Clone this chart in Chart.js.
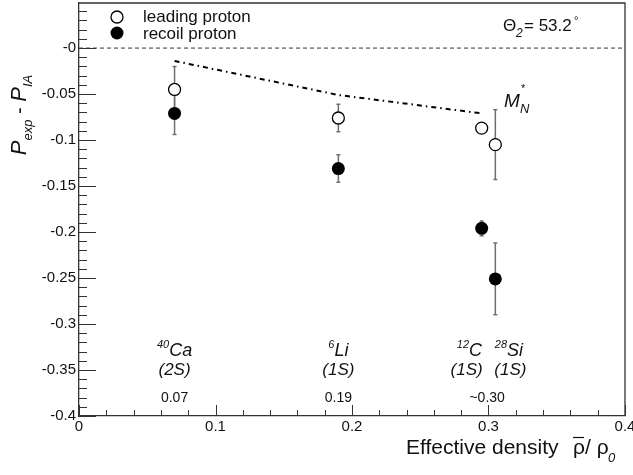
<!DOCTYPE html>
<html lang="en">
<head>
<meta charset="UTF-8">
<title>Polarization difference vs effective density</title>
<style>
  html, body { margin: 0; padding: 0; background: #fff; }
  #wrap { width: 633px; height: 475px; }
</style>
</head>
<body>
<div id="wrap"><canvas id="myChart" width="633" height="475"></canvas></div>

<script src="https://cdn.jsdelivr.net/npm/chart.js"></script>
<script>
// data
const densityX = [0.070, 0.190, 0.295, 0.305];          // 40Ca, 6Li, 12C, 28Si
const leadingY = [-0.045, -0.076, -0.087, -0.105];
const leadingErr = [0.025, 0.015, 0.005, 0.038];
const recoilY = [-0.071, -0.131, -0.196, -0.251];
const recoilErr = [0.023, 0.015, 0.008, 0.039];
const mnX = [0.070, 0.190, 0.295];                      // M*_N calculation
const mnY = [-0.014, -0.051, -0.071];

const xTickVals = [0, 0.1, 0.2, 0.3, 0.4];
const xTickText = ['0', '0.1', '0.2', '0.3', '0.4'];
const yTickVals = [-0.4, -0.35, -0.3, -0.25, -0.2, -0.15, -0.1, -0.05, 0];
const yTickText = ['-0.4', '-0.35', '-0.3', '-0.25', '-0.2', '-0.15', '-0.1', '-0.05', '-0'];

// nucleus labels along the bottom
const nuclei = [
    { mass: '40', sym: 'Ca', x: 0.070 },
    { mass: '6', sym: 'Li', x: 0.190 },
    { mass: '12', sym: 'C', x: 0.286 },
    { mass: '28', sym: 'Si', x: 0.315 }
];
const shellText = ['(2S)', '(1S)', '(1S)', '(1S)'];
const shellX = [0.070, 0.190, 0.284, 0.316];
const densText = ['0.07', '0.19', '~0.30'];
const densX = [0.070, 0.190, 0.299];

const FONT = '"Liberation Sans", Arial, sans-serif';

function pts(xs, ys) {
    return xs.map((x, i) => ({ x: x, y: ys[i] }));
}

const extras = {
    id: 'extras',
    beforeDatasetsDraw(chart) {
        const ctx = chart.ctx;
        const xs = chart.scales.x, ys = chart.scales.y;
        ctx.save();
        ctx.strokeStyle = '#707070';
        ctx.lineWidth = 1.5;
        const bars = [[leadingY, leadingErr], [recoilY, recoilErr]];
        bars.forEach(([vals, errs]) => {
            vals.forEach((v, i) => {
                const px = xs.getPixelForValue(densityX[i]);
                const top = ys.getPixelForValue(v + errs[i]);
                const bot = ys.getPixelForValue(v - errs[i]);
                ctx.beginPath();
                ctx.moveTo(px, top); ctx.lineTo(px, bot);
                ctx.moveTo(px - 2, top); ctx.lineTo(px + 2, top);
                ctx.moveTo(px - 2, bot); ctx.lineTo(px + 2, bot);
                ctx.stroke();
            });
        });
        ctx.restore();
    },
    afterDraw(chart) {
        const ctx = chart.ctx;
        const a = chart.chartArea;
        const xs = chart.scales.x, ys = chart.scales.y;
        ctx.save();

        // frame top/right
        ctx.strokeStyle = '#333';
        ctx.lineWidth = 1.3;
        ctx.beginPath();
        ctx.moveTo(a.left, a.top); ctx.lineTo(a.right, a.top); ctx.lineTo(a.right, a.bottom);
        ctx.stroke();

        // inner ticks
        ctx.lineWidth = 1;
        ctx.beginPath();
        for (let i = 0; i <= 45; i++) {
            const v = -0.4 + i * 0.01;
            const py = Math.round(ys.getPixelForValue(v)) + 0.5;
            if (py < a.top) continue;
            const len = i % 5 === 0 ? 17 : 8;
            ctx.moveTo(a.left, py); ctx.lineTo(a.left + len, py);
        }
        for (let i = 0; i <= 20; i++) {
            const v = i * 0.02;
            const px = Math.round(xs.getPixelForValue(v)) + 0.5;
            const len = i % 5 === 0 ? 11 : 6;
            ctx.moveTo(px, a.bottom); ctx.lineTo(px, a.bottom - len);
        }
        ctx.stroke();

        ctx.fillStyle = '#111';
        ctx.textBaseline = 'alphabetic';

        // legend
        ctx.lineWidth = 1.3;
        ctx.strokeStyle = '#000';
        ctx.beginPath(); ctx.arc(117, 17, 6, 0, Math.PI * 2);
        ctx.fillStyle = '#fff'; ctx.fill(); ctx.stroke();
        ctx.beginPath(); ctx.arc(117, 33, 6.5, 0, Math.PI * 2);
        ctx.fillStyle = '#000'; ctx.fill();
        ctx.fillStyle = '#111';
        ctx.font = '17px ' + FONT;
        ctx.textAlign = 'left';
        ctx.fillText('leading proton', 143, 22);
        ctx.fillText('recoil proton', 143, 39);

        // theta label
        ctx.font = '17px ' + FONT;
        ctx.fillText('\u0398', 503, 31);
        ctx.font = 'italic 12px ' + FONT;
        ctx.fillText('2', 516, 37);
        ctx.font = '17px ' + FONT;
        ctx.fillText('= 53.2', 524, 31);
        ctx.font = '11px ' + FONT;
        ctx.fillText('\u00b0', 574, 24);

        // M*_N label
        ctx.font = 'italic 19px ' + FONT;
        ctx.fillText('M', 504, 107);
        ctx.font = '11px ' + FONT;
        ctx.fillText('*', 521, 92);
        ctx.font = 'italic 13px ' + FONT;
        ctx.fillText('N', 520, 113);

        // nucleus labels
        nuclei.forEach(n => {
            ctx.font = 'italic 11px ' + FONT;
            const wm = ctx.measureText(n.mass).width;
            ctx.font = 'italic 18px ' + FONT;
            const ws = ctx.measureText(n.sym).width;
            const cx = xs.getPixelForValue(n.x);
            const left = cx - (wm + ws) / 2;
            const base = ys.getPixelForValue(-0.3345);
            ctx.font = 'italic 11px ' + FONT;
            ctx.fillText(n.mass, left, base - 8);
            ctx.font = 'italic 18px ' + FONT;
            ctx.fillText(n.sym, left + wm, base);
        });
        ctx.textAlign = 'center';
        ctx.font = 'italic 17px ' + FONT;
        shellText.forEach((t, i) => {
            ctx.fillText(t, xs.getPixelForValue(shellX[i]), ys.getPixelForValue(-0.355));
        });
        ctx.font = '14px ' + FONT;
        densText.forEach((t, i) => {
            ctx.fillText(t, xs.getPixelForValue(densX[i]), ys.getPixelForValue(-0.3845));
        });

        // x title
        ctx.textAlign = 'left';
        ctx.font = '21px ' + FONT;
        ctx.fillText('Effective density', 406, 454);
        ctx.fillText('\u03c1', 573, 454);
        ctx.lineWidth = 1.2;
        ctx.strokeStyle = '#111';
        ctx.beginPath(); ctx.moveTo(573, 437.5); ctx.lineTo(584, 437.5); ctx.stroke();
        ctx.fillText('/ \u03c1', 585, 454);
        ctx.font = 'italic 13px ' + FONT;
        ctx.fillText('0', 608, 462);

        // y title
        ctx.translate(26, 115);
        ctx.rotate(-Math.PI / 2);
        const parts = [
            ['P', 'italic 22px', 0], ['exp', 'italic 13px', 6], [' - ', '20px', 0],
            ['P', 'italic 22px', 0], ['IA', 'italic 13px', 6]
        ];
        let total = 0;
        parts.forEach(p => { ctx.font = p[1] + ' ' + FONT; total += ctx.measureText(p[0]).width; });
        let cur = -total / 2;
        parts.forEach(p => {
            ctx.font = p[1] + ' ' + FONT;
            ctx.fillText(p[0], cur, p[2]);
            cur += ctx.measureText(p[0]).width;
        });
        ctx.restore();
    }
};

const ctx = document.getElementById('myChart');
new Chart(ctx, {
    type: 'scatter',
    data: {
        datasets: [
            {
                label: 'zero',
                data: pts([0, 0.4], [0, 0]),
                showLine: true,
                borderColor: '#333',
                borderWidth: 1,
                borderDash: [4, 3],
                pointRadius: 0
            },
            {
                label: 'M*_N',
                data: pts(mnX, mnY),
                showLine: true,
                borderColor: '#000',
                borderWidth: 2,
                borderDash: [5, 4, 1.5, 4],
                pointRadius: 0
            },
            {
                label: 'leading proton',
                data: pts(densityX, leadingY),
                pointStyle: 'circle',
                pointRadius: 6,
                backgroundColor: '#fff',
                borderColor: '#000',
                borderWidth: 1.3
            },
            {
                label: 'recoil proton',
                data: pts(densityX, recoilY),
                pointStyle: 'circle',
                pointRadius: 6.5,
                backgroundColor: '#000',
                borderColor: '#000',
                borderWidth: 0
            }
        ]
    },
    options: {
        responsive: false,
        animation: false,
        events: [],
        layout: { autoPadding: false, padding: { top: 3, right: 8, left: 0, bottom: 0 } },
        plugins: { legend: { display: false }, tooltip: { enabled: false } },
        scales: {
            x: {
                type: 'linear',
                min: 0,
                max: 0.4,
                afterBuildTicks: s => { s.ticks = xTickVals.map(v => ({ value: v })); },
                afterFit: s => { s.height = 59; s.paddingLeft = 0; s.paddingRight = 0; },
                ticks: {
                    callback: (v, i) => xTickText[i],
                    color: '#111',
                    font: { family: FONT, size: 15 },
                    padding: 2,
                    maxRotation: 0
                },
                grid: { display: false, drawTicks: false },
                border: { display: true, color: '#333', width: 1.3 }
            },
            y: {
                type: 'linear',
                min: -0.4,
                max: 0.049,
                afterBuildTicks: s => { s.ticks = yTickVals.map(v => ({ value: v })); },
                afterFit: s => { s.width = 79; s.paddingTop = 0; s.paddingBottom = 0; },
                ticks: {
                    callback: (v, i) => yTickText[i],
                    color: '#111',
                    font: { family: FONT, size: 15 },
                    padding: 3
                },
                grid: { display: false, drawTicks: false },
                border: { display: true, color: '#333', width: 1.3 }
            }
        }
    },
    plugins: [extras]
});
</script>
</body>
</html>
